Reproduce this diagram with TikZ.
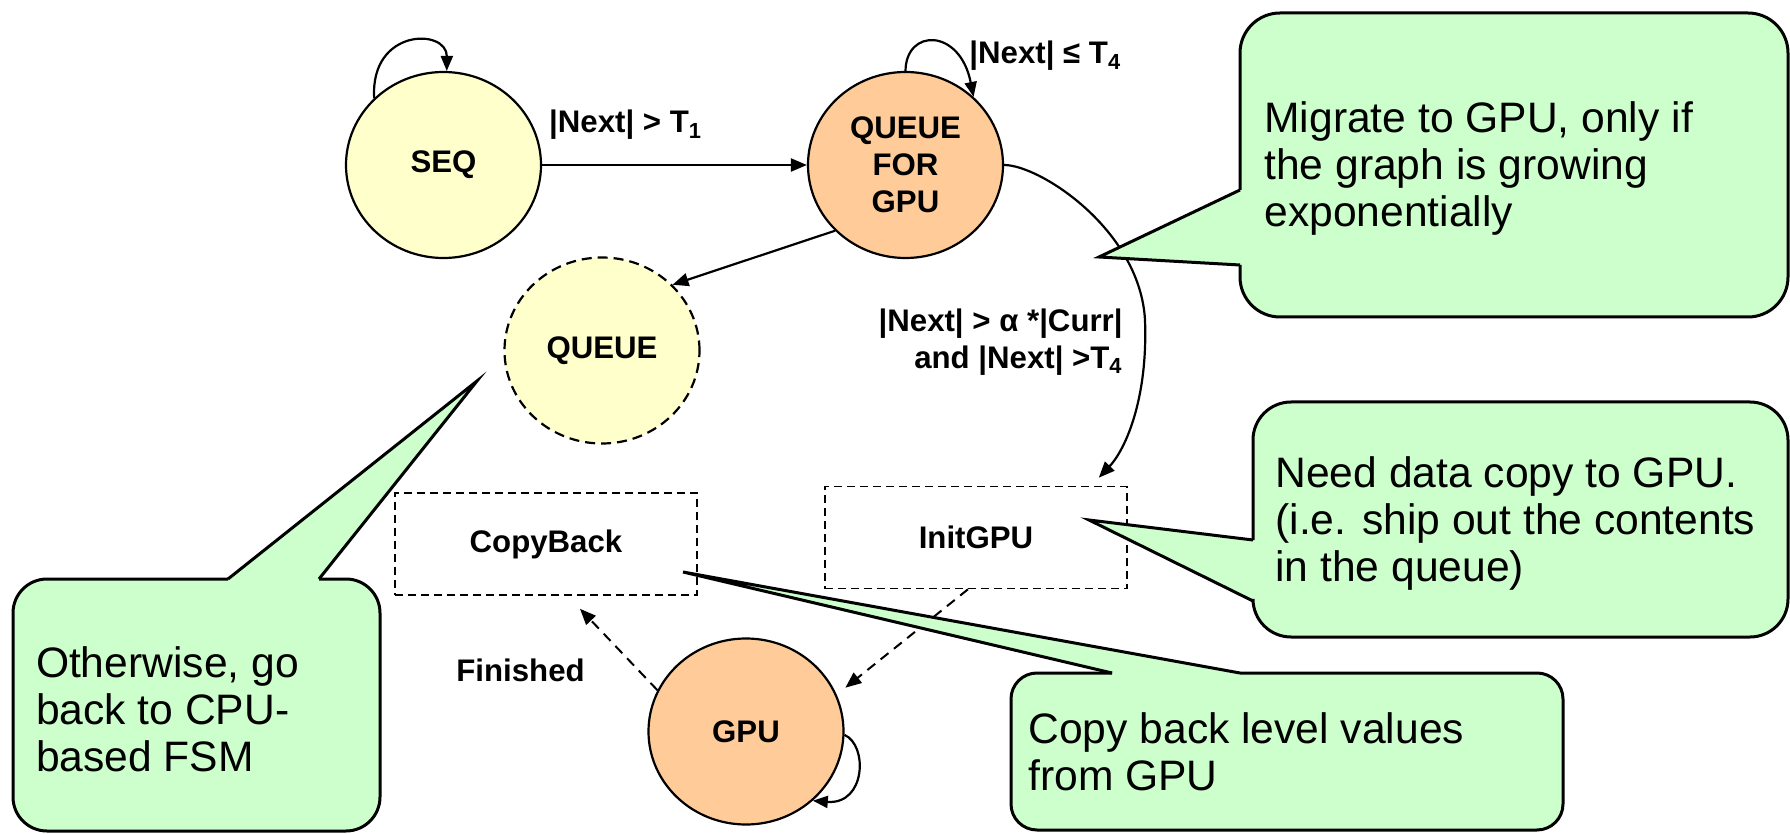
\documentclass[tikz,border=0pt]{standalone}
\usepackage{fontspec}
\setmainfont{Liberation Sans}
\usetikzlibrary{arrows.meta,shapes.geometric}
\definecolor{palefill}{HTML}{FFFFCC}
\definecolor{peachfill}{HTML}{FFCC99}
\definecolor{mintfill}{HTML}{CCFFCC}
\newcommand\lblfont{\fontsize{15.6}{18.5}\selectfont\bfseries}
\newcommand\callfont{\fontsize{21.3}{23.5}\selectfont}
\begin{document}
\begin{tikzpicture}[x=0.5pt,y=-0.5pt,
  state/.style={ellipse, draw, line width=1.1pt, minimum width=97.5pt, minimum height=93pt, inner sep=0pt, font=\lblfont, align=center},
  dbox/.style={draw, dash pattern=on 4pt off 2.5pt, line width=0.8pt, minimum width=151pt, minimum height=51pt, inner sep=0pt, font=\lblfont},
  arr/.style={line width=1.1pt, -{Triangle[length=8pt,width=6.5pt]}},
  looparr/.style={line width=1.1pt, -{Triangle[length=7.5pt,width=6pt]}},
  darr/.style={line width=1pt, dash pattern=on 5pt off 3.5pt, -{Triangle[length=8pt,width=6.5pt]}},
  lab/.style={font=\lblfont, inner sep=0pt},
  cfill/.style={fill=mintfill},
  cline/.style={draw=black, line width=1.5pt},
  ctext/.style={font=\callfont, align=left, inner sep=0pt, anchor=north west}]

\fill[white] (0,0) rectangle (1790,834);
\useasboundingbox (0,0) rectangle (1790,834);

% states
\node[state, fill=palefill] (seq) at (443.5,165) {SEQ};
\node[state, fill=peachfill] (qfg) at (905.5,165) {QUEUE\\FOR\\GPU};
\node[state, fill=palefill, dash pattern=on 5pt off 3pt] (queue) at (602,350.5) {QUEUE};
\node[state, fill=peachfill] (gpu) at (746,731.5) {GPU};

% dashed boxes
\node[dbox] (copyback) at (546,544) {CopyBack};
\node[dbox] (initgpu) at (976,537.5) {InitGPU};

% connectors
\draw[looparr] (seq.136) .. controls (370,28) and (447,28) .. (seq.88);
\draw[arr] (seq.east) -- (qfg.west)
  node[lab, pos=0, anchor=base west, xshift=3pt, yshift=16pt] (l1) {|Next| > T\textsubscript{1}};
\draw[looparr] (qfg.90) .. controls (906,28) and (960,28) .. (qfg.45);
\node[lab, anchor=base west] (l2) at (969,64) {|Next| ≤ T\textsubscript{4}};
\draw[arr] (qfg.223) -- (queue.43);
\draw[arr] (qfg.east) .. controls (1040,165) and (1140,230) .. (1145,320)
  .. controls (1148,400) and (1125,450) .. ([xshift=-14.5pt,yshift=4pt]initgpu.north east);
\node[lab, anchor=north east, align=right] (l3) at (1123,308)
  {|Next| > α *|Curr|\\and |Next| >T\textsubscript{4}};
\draw[darr] ([xshift=-4pt]initgpu.south) -- ([xshift=5pt,yshift=2pt]gpu.24);
\draw[darr] (gpu.155) -- ([xshift=17pt,yshift=-6.5pt]copyback.south);
\node[lab] (l4) at (520.5,670) {Finished};
\draw[looparr] (gpu.-2) .. controls (868,745) and (866,805) .. (gpu.-46);

% callout: Migrate
\fill[cfill, rounded corners=20pt] (1240,13) rectangle (1788,317);
\fill[cfill] (1240,265) -- (1099,257) -- (1240,190) -- cycle;
\draw[cline, rounded corners=20pt] (1240,265) -- (1240,317) -- (1788,317) -- (1788,13) -- (1240,13) -- (1240,190);
\draw[cline] (1240,190) -- (1099,257) -- (1240,265);
\node[ctext] (c1) at (1264,101) {Migrate to GPU, only if\\the graph is growing\\exponentially};

% callout: Need data
\fill[cfill, rounded corners=19pt] (1253,402) rectangle (1788,637);
\fill[cfill] (1253,601) -- (1089,520) -- (1253,540) -- cycle;
\draw[cline, rounded corners=19pt] (1253,601) -- (1253,637) -- (1788,637) -- (1788,402) -- (1253,402) -- (1253,540);
\draw[cline] (1253,540) -- (1089,520) -- (1253,601);
\node[ctext] (c2) at (1275,456) {Need data copy to GPU.\\(i.e. ship out the contents\\in the queue)};

% callout: Copy back
\fill[cfill, rounded corners=13pt] (1011,673) rectangle (1563,830);
\fill[cfill] (1112,673) -- (683,572) -- (1240,673) -- cycle;
\draw[cline, rounded corners=13pt] (1112,673) -- (1011,673) -- (1011,830) -- (1563,830) -- (1563,673) -- (1240,673);
\draw[cline] (1240,673) -- (683,572) -- (1112,673);
\node[ctext] (c3) at (1028,712) {Copy back level values\\from GPU};

% callout: Otherwise
\fill[cfill, rounded corners=17pt] (13,579) rectangle (380,831);
\fill[cfill] (228,579) -- (477,381) -- (319,579) -- cycle;
\draw[cline, rounded corners=17pt] (228,579) -- (13,579) -- (13,831) -- (380,831) -- (380,579) -- (319,579);
\draw[cline] (319,579) -- (477,381) -- (228,579);
\node[ctext] (c4) at (35.6,646) {Otherwise, go\\back to CPU-\\based FSM};
\end{tikzpicture}
\end{document}
